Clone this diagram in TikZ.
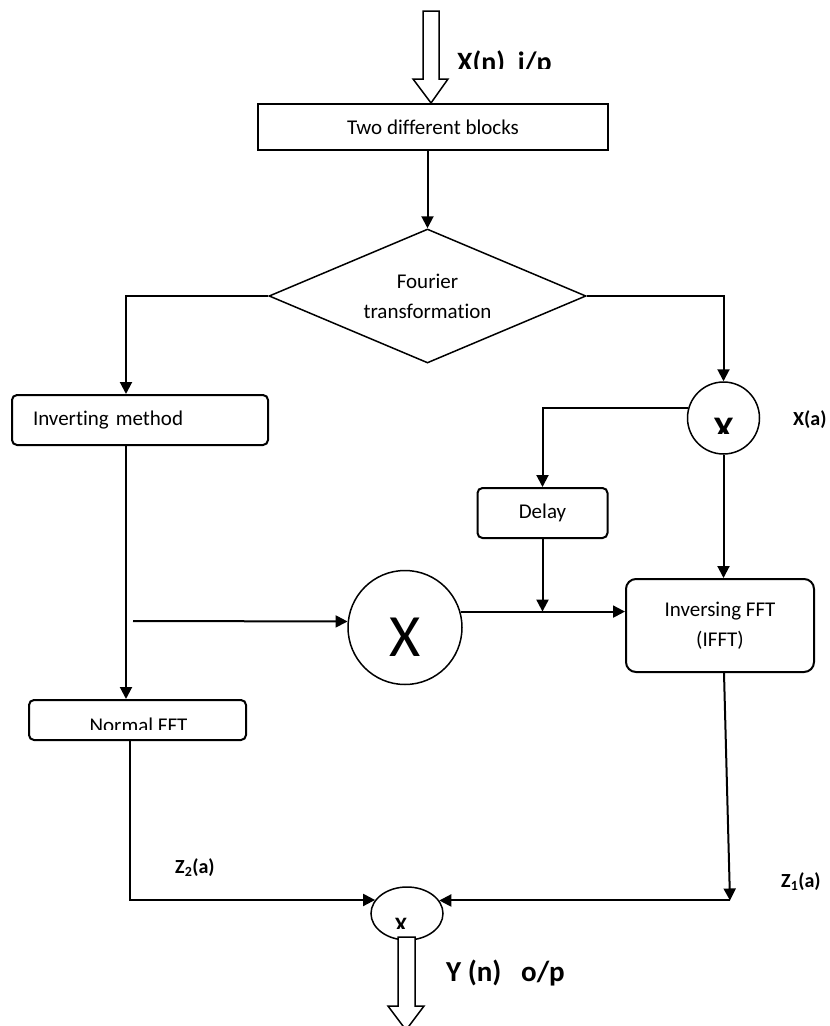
\documentclass[tikz,border=0pt]{standalone}
\usepackage{fontspec}
\setmainfont{Carlito}[Ligatures=NoCommon]
\usetikzlibrary{arrows.meta,shapes.geometric}
\begin{document}
\begin{tikzpicture}[x=1pt,y=-1pt,
  ln/.style={line width=2pt},
  arr/.style={ln,-{Triangle[length=12pt,width=12pt]}},
  box/.style={draw,line width=2pt,inner sep=0pt},
  rbox/.style={box,rounded corners=5pt},
  txt/.style={font=\fontsize{21}{30}\selectfont},
  lbl/.style={font=\fontsize{20}{24}\selectfont\bfseries,inner sep=0pt,anchor=west},
  big/.style={font=\fontsize{28}{34}\selectfont\bfseries,inner sep=0pt},
  hollow/.style={draw,line width=1.5pt,fill=white},
  ring/.style={draw,line width=1.5pt,inner sep=0pt},
]
\useasboundingbox (0,0) rectangle (830,1026);
\fill[white] (0,0) rectangle (830,1026);

% ---- nodes
\node[box,minimum width=350pt,minimum height=46pt,txt] (blocks) at (433,127) {Two different blocks};
\node[ring,diamond,shape aspect=2.37,minimum width=317pt,minimum height=134pt,txt,align=center] (dia) at (427.5,296) {Fourier\\transformat\kern0pt ion};
\node[rbox,minimum width=256pt,minimum height=50pt,txt,text width=214pt,align=left] (inv) at (140,420) {Invert\kern0pt ing method};
\node[ring,circle,minimum size=72pt] (yc) at (723.5,418) {};
\node[rbox,minimum width=130pt,minimum height=50pt,txt] (delay) at (542.5,513) {Delay};
\node[ring,circle,minimum size=114pt] (bigx) at (405,627.5) {};
\node[font=\fontsize{60}{60}\selectfont,inner sep=0pt] (bigxt) at (405,637) {X};
\node[box,rounded corners=10pt,minimum width=188pt,minimum height=93pt,txt,align=center] (ifft) at (720,625.5) {Inversing FFT\\(IFFT)};
\node[rbox,minimum width=217pt,minimum height=40pt] (normal) at (137.5,720) {};
\node[ring,ellipse,minimum width=72pt,minimum height=53pt] (bot) at (407,913.5) {};

% clipped texts
\begin{scope}
  \clip (29,700) rectangle (246,729);
  \node[txt,inner sep=0pt,anchor=base] (normalt) at (138.5,732.5) {Normal FFT};
\end{scope}
\begin{scope}
  \clip (690,381) rectangle (760,433);
  \node[font=\fontsize{36}{40}\selectfont\bfseries,inner sep=0pt,anchor=base] (yct) at (723.5,441) {X};
\end{scope}
\begin{scope}
  \clip (380,890) rectangle (440,928);
  \node[font=\fontsize{22}{26}\selectfont\bfseries,inner sep=0pt,anchor=base] (bott) at (401,932) {X};
\end{scope}
\begin{scope}
  \clip (440,0) rectangle (830,68);
  \node[big,anchor=base west] (xin) at (457,71) {X(n)~~i/p};
\end{scope}

% labels
\node[lbl] (xa) at (793,420) {X(a)};
\node[lbl] (z2) at (175,868) {Z\textsubscript{2}(a)};
\node[lbl] (z1) at (781,882) {Z\textsubscript{1}(a)};
\node[font=\fontsize{29}{34}\selectfont\bfseries,inner sep=0pt,anchor=west] (yout) at (446,973) {Y (n)~~~o/p};

% helper coordinates
\coordinate (lx) at (126,0);
\coordinate (zl) at (130,0);
\coordinate (rx) at (730,0);
\coordinate (mstart) at (133,621);

% ---- connectors
\draw[arr] (blocks.south -| dia.north) -- (dia.north);
\draw[arr] (dia.west) -| (lx |- inv.north);
\draw[arr] (dia.east) -| (yc.north);
\draw[arr] (yc.165) -| (delay.north);
\draw[arr] (yc.south) -- (yc.south |- ifft.north);
\draw[arr] (delay.south) -- (delay.south |- bigx.16);
\draw[arr] (bigx.16) -- (bigx.16 -| ifft.west);
\draw[arr] (lx |- inv.south) -- (lx |- normal.north);
\draw[arr] (mstart) -- (bigx.174);
\draw[arr] (zl |- normal.south) |- (bot.157.5);
\draw[arr] ([xshift=4pt]ifft.south) -- (rx |- bot.22.5);
\draw[arr] (rx |- bot.22.5) -- (bot.22.5);

% hollow in/out arrows
\draw[hollow] (423,11) -- (439,11) -- (439,79) -- (448,79) -- (431,103) -- (413,79) -- (423,79) -- cycle;
\draw[hollow] (398,937) -- (415,937) -- (415,1006) -- (424,1006) -- (406,1030) -- (388,1006) -- (398,1006) -- cycle;
\end{tikzpicture}
\end{document}
